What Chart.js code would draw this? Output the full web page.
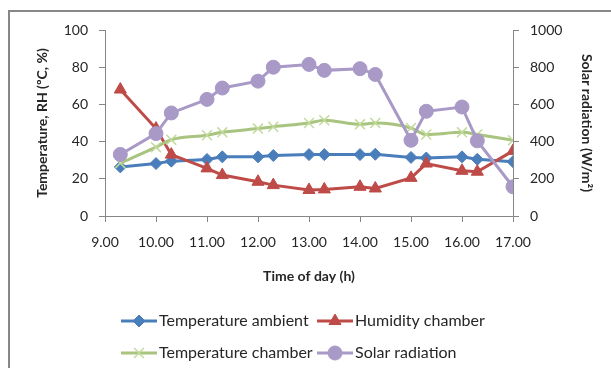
<!DOCTYPE html>
<html>
<head>
<meta charset="utf-8">
<script src="https://cdn.jsdelivr.net/npm/chart.js@4.4.0/dist/chart.umd.min.js"></script>
<style>
  html, body { margin: 0; padding: 0; background: #fff; }
  #wrap { position: relative; width: 611px; height: 368px; overflow: hidden; }
  #frame { position: absolute; left: 8px; top: 10px; width: 700px; height: 400px;
           border-left: 2px solid #878787; border-top: 2px solid #878787; }
  canvas { position: absolute; left: 0; top: 0; }
</style>
</head>
<body>
<div id="wrap">
  <div id="frame"></div>
  <canvas id="solarChart" width="611" height="368"></canvas>
</div>
<script>
// time of day, decimal hours as written in the sheet (9.30 -> 9.3)
const times = [9.3, 10, 10.3, 11, 11.3, 12, 12.3, 13, 13.3, 14, 14.3, 15, 15.3, 16, 16.3, 17];
const tempAmbient = [26.4, 28.2, 29.5, 30.4, 31.8, 31.8, 32.5, 33, 33, 33, 33.2, 31.5, 31.2, 31.8, 30.5, 29.2];
const humidityChamber = [68, 47, 33, 25.6, 22, 18.4, 16.6, 14, 14.3, 15.7, 14.8, 20.5, 28.2, 24.3, 23.8, 35];
const tempChamber = [28.4, 37, 41, 43.4, 45, 47, 48, 50, 51.5, 49.3, 50, 47.3, 43.8, 45, 43.8, 40.7];
const solarRadiation = [331, 443, 554, 627, 688, 725, 800, 815, 783, 792, 761, 407, 563, 586, 404, 157];

const seriesNames = ['Temperature ambient', 'Humidity chamber', 'Temperature chamber', 'Solar radiation'];

function toPoints(values) {
    return values.map((v, i) => ({ x: times[i], y: v }));
}

const axisColor = '#868686';
const textColor = '#262626';
const fontFamily = 'Lato, "Open Sans", sans-serif';

// Excel style legend: short line with the marker in the middle, two columns
const excelLegend = {
    id: 'excelLegend',
    afterDraw(chart) {
        const ctx = chart.ctx;
        const cols = [121, 317];
        const rows = [321, 353];
        ctx.save();
        chart.data.datasets.forEach((ds, i) => {
            const x = cols[i % 2];
            const y = rows[Math.floor(i / 2)];
            ctx.strokeStyle = ds.borderColor;
            ctx.lineWidth = 3;
            ctx.beginPath();
            ctx.moveTo(x, y);
            ctx.lineTo(x + 36, y);
            ctx.stroke();
            ctx.fillStyle = ds.pointBackgroundColor;
            ctx.strokeStyle = ds.pointBorderColor;
            ctx.lineWidth = ds.pointBorderWidth;
            Chart.helpers.drawPoint(ctx, {
                pointStyle: ds.pointStyle,
                radius: ds.pointRadius,
                rotation: 0,
                borderWidth: ds.pointBorderWidth
            }, x + 18, y);
            ctx.fillStyle = textColor;
            ctx.font = '16px ' + fontFamily;
            ctx.textBaseline = 'middle';
            ctx.textAlign = 'left';
            ctx.fillText(ds.label, x + 38, y);
        });
        ctx.restore();
    }
};

const ctx = document.getElementById('solarChart').getContext('2d');
const solarChart = new Chart(ctx, {
    type: 'line',
    data: {
        datasets: [{
            label: seriesNames[0],
            data: toPoints(tempAmbient),
            yAxisID: 'y',
            borderColor: '#4A7EBB',
            borderWidth: 3,
            pointStyle: 'rectRot',
            pointRadius: 6,
            pointBackgroundColor: '#4A7EBB',
            pointBorderColor: '#4A7EBB',
            pointBorderWidth: 1,
            order: 4
        }, {
            label: seriesNames[1],
            data: toPoints(humidityChamber),
            yAxisID: 'y',
            borderColor: '#BE4B48',
            borderWidth: 3,
            pointStyle: 'triangle',
            pointRadius: 7,
            pointBackgroundColor: '#BE4B48',
            pointBorderColor: '#BE4B48',
            pointBorderWidth: 1,
            order: 3
        }, {
            label: seriesNames[2],
            data: toPoints(tempChamber),
            yAxisID: 'y',
            borderColor: '#A8C47E',
            borderWidth: 3,
            cubicInterpolationMode: 'monotone',
            pointStyle: 'crossRot',
            pointRadius: 7,
            pointBackgroundColor: '#C2DA9C',
            pointBorderColor: '#C2DA9C',
            pointBorderWidth: 1.5,
            order: 2
        }, {
            label: seriesNames[3],
            data: toPoints(solarRadiation),
            yAxisID: 'y1',
            borderColor: '#A899C7',
            borderWidth: 3,
            pointStyle: 'circle',
            pointRadius: 7,
            pointBackgroundColor: '#A899C7',
            pointBorderColor: '#A899C7',
            pointBorderWidth: 1,
            order: 1
        }]
    },
    options: {
        responsive: false,
        animation: false,
        layout: { padding: { top: 30, left: 0, right: 0, bottom: 0 } },
        plugins: {
            legend: { display: false },
            tooltip: { enabled: false }
        },
        scales: {
            x: {
                type: 'linear',
                min: 9,
                max: 17,
                ticks: {
                    stepSize: 1,
                    padding: 12,
                    color: textColor,
                    font: { family: fontFamily, size: 14 },
                    callback: v => v.toFixed(2)
                },
                grid: { drawOnChartArea: false, tickLength: 6, color: axisColor },
                border: { color: axisColor },
                title: {
                    display: true,
                    text: 'Time of day (h)',
                    color: textColor,
                    font: { family: fontFamily, size: 14, weight: 'bold' },
                    padding: { top: 0, bottom: 83 }
                },
                afterFit(scale) { scale.height = 152; }
            },
            y: {
                position: 'left',
                min: 0,
                max: 100,
                ticks: {
                    stepSize: 20,
                    padding: 11,
                    color: textColor,
                    font: { family: fontFamily, size: 14 }
                },
                grid: { drawOnChartArea: false, tickLength: 6, color: axisColor },
                border: { color: axisColor },
                title: {
                    display: true,
                    text: 'Temperature, RH (ºC, %)',
                    color: textColor,
                    font: { family: fontFamily, size: 14, weight: 'bold' },
                    padding: { top: 34, bottom: 0 }
                },
                afterFit(scale) { scale.width = 105; }
            },
            y1: {
                position: 'right',
                min: 0,
                max: 1000,
                ticks: {
                    stepSize: 200,
                    padding: 11,
                    color: textColor,
                    font: { family: fontFamily, size: 14 },
                    callback: v => String(v)
                },
                grid: { drawOnChartArea: false, tickLength: 6, color: axisColor },
                border: { color: axisColor },
                title: {
                    display: true,
                    text: 'Solar radiation (W/m²)',
                    color: textColor,
                    font: { family: fontFamily, size: 14, weight: 'bold' },
                    padding: { top: 16, bottom: 0 }
                },
                afterFit(scale) { scale.width = 98; }
            }
        }
    },
    plugins: [excelLegend]
});
</script>
</body>
</html>
